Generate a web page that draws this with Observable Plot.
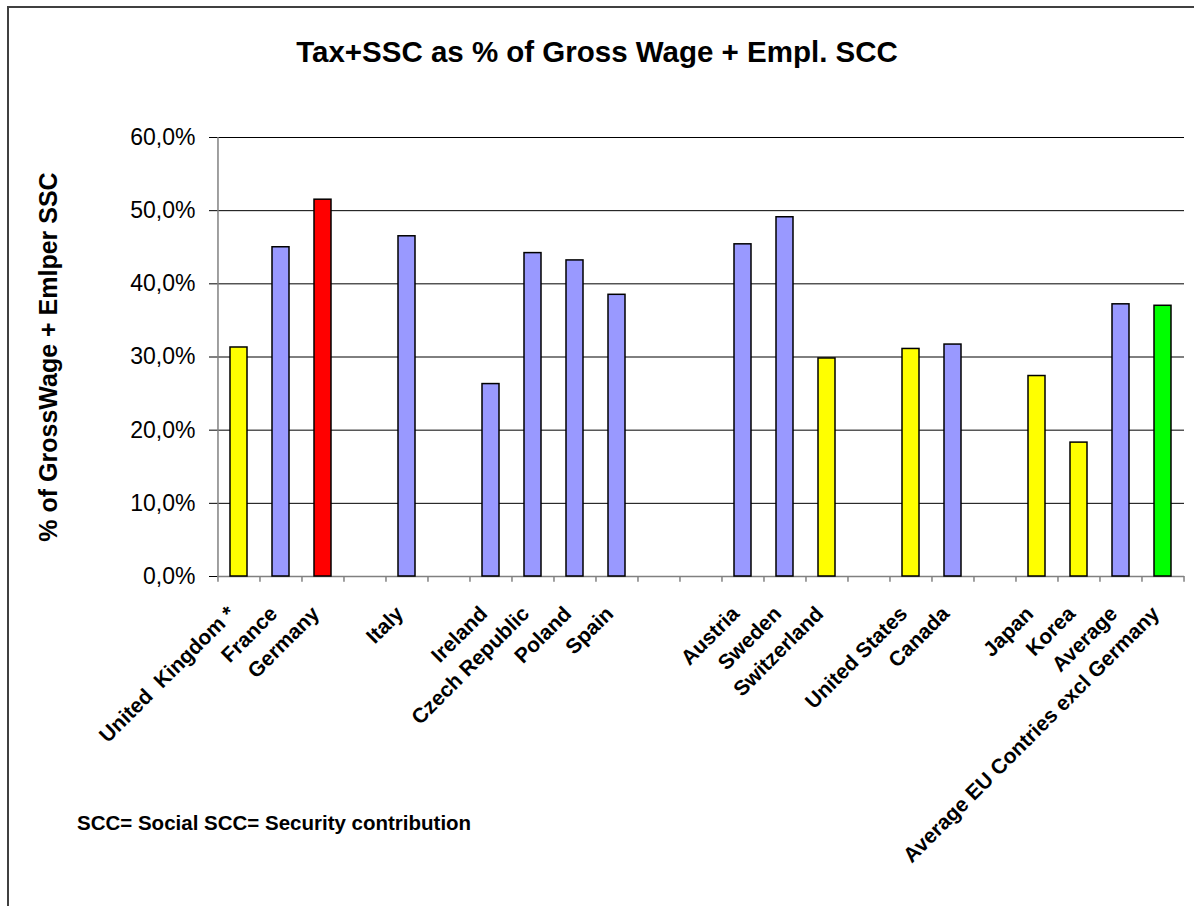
<!DOCTYPE html>
<html><head><meta charset="utf-8">
<script src="https://cdn.jsdelivr.net/npm/d3@7"></script>
<script src="https://cdn.jsdelivr.net/npm/@observablehq/plot@0.6"></script>
<style>
body{margin:0;background:#fff;font-family:"Liberation Sans",Arial,sans-serif;overflow:hidden;}
#frame{position:absolute;left:7px;top:6px;width:1300px;height:1000px;border:2px solid #404040;}
#chart{position:absolute;left:0;top:0;}
#title{position:absolute;left:0;top:35px;width:1194px;text-align:center;font-weight:bold;font-size:29.5px;color:#000;}
#ylabel{position:absolute;left:48px;top:357px;width:600px;margin-left:-300px;margin-top:-15px;text-align:center;font-weight:bold;font-size:25px;transform:rotate(-90deg);transform-origin:50% 50%;line-height:30px;}
#note{position:absolute;left:77px;top:811px;font-weight:bold;font-size:20.5px;}
</style></head><body>
<div id="frame"></div>
<div id="chart"></div>
<div id="title">Tax+SSC as % of Gross Wage + Empl. SCC</div>
<div id="ylabel">% of GrossWage + Emlper SSC</div>
<div id="note">SCC= Social SCC= Security contribution</div>
<script>
const categories = ["United  Kingdom *","France","Germany","gap1","Italy","gap2","Ireland","Czech Republic","Poland","Spain","gap3","gap4","Austria","Sweden","Switzerland","gap5","United States","Canada","gap6","Japan","Korea","Average","Average EU Contries excl Germany"];
const values = [31.3,45.0,51.5,null,46.5,null,26.3,44.2,43.2,38.5,null,null,45.4,49.1,29.8,null,31.1,31.7,null,27.4,18.3,37.2,37.0];
const barGroups = ["G1","G2","G3",null,"G2",null,"G2","G2","G2","G2",null,null,"G2","G2","G1",null,"G1","G2",null,"G1","G1","G2","G4"];
const yTicks = [0,10,20,30,40,50,60];
const groupNames = ["G1","G2","G3","G4"];
const groupColors = ["#FFFF00","#9999FF","#FF0000","#00FF00"];

const data = categories.map((name,i)=>({name, value: values[i], group: barGroups[i]}));
const bars = data.filter(d=>d.value!=null);
const isGap = n => n.startsWith("gap");

const W = 1194, H = 906, mL = 217, mR = 10, mT = 137, mB = 330;
const step = (W - mL - mR) / categories.length;

const chart = Plot.plot({
  width: W, height: H,
  marginLeft: mL, marginRight: mR, marginTop: mT, marginBottom: mB,
  style: {fontFamily: "'Liberation Sans', Arial, sans-serif", background: "transparent", overflow: "visible", whiteSpace: "pre"},
  x: {domain: categories, paddingInner: 0.6, paddingOuter: 0.3, axis: null},
  y: {domain: [0, 60], axis: null},
  color: {domain: groupNames, range: groupColors},
  marks: [
    Plot.gridY(yTicks.filter(t=>t>0), {stroke: "#000", strokeOpacity: 1, strokeWidth: 1}),
    Plot.axisY(yTicks, {label: null, tickSize: 8, tickPadding: 14, fontSize: 23, stroke: "#000", tickFormat: d => d.toFixed(1).replace(".", ",") + "%", fill: "#000"}),
    Plot.ruleY([0], {stroke: "#808080", strokeWidth: 1.5}),
    Plot.ruleX([categories[0]], {dx: -step/2, y1: 0, y2: 60, stroke: "#808080", strokeWidth: 1.5}),
    Plot.ruleX(categories, {x: d=>d, dx: -step/2, y1: 0, y2: -0.8, stroke: "#808080", strokeWidth: 1.5}),
    Plot.ruleX([categories[categories.length-1]], {dx: step/2, y1: 0, y2: -0.8, stroke: "#808080", strokeWidth: 1.5}),
    Plot.barY(bars, {x: "name", y: "value", fill: "group", stroke: "#000", strokeWidth: 1.5}),
    Plot.text(data.filter(d=>!isGap(d.name)), {x: "name", y: 0, text: "name", rotate: -45, textAnchor: "end", lineAnchor: "top", dx: -13, dy: 28, fontSize: 21, fontWeight: "bold", fill: "#000"})
  ]
});
document.getElementById("chart").appendChild(chart);
</script>
</body></html>
